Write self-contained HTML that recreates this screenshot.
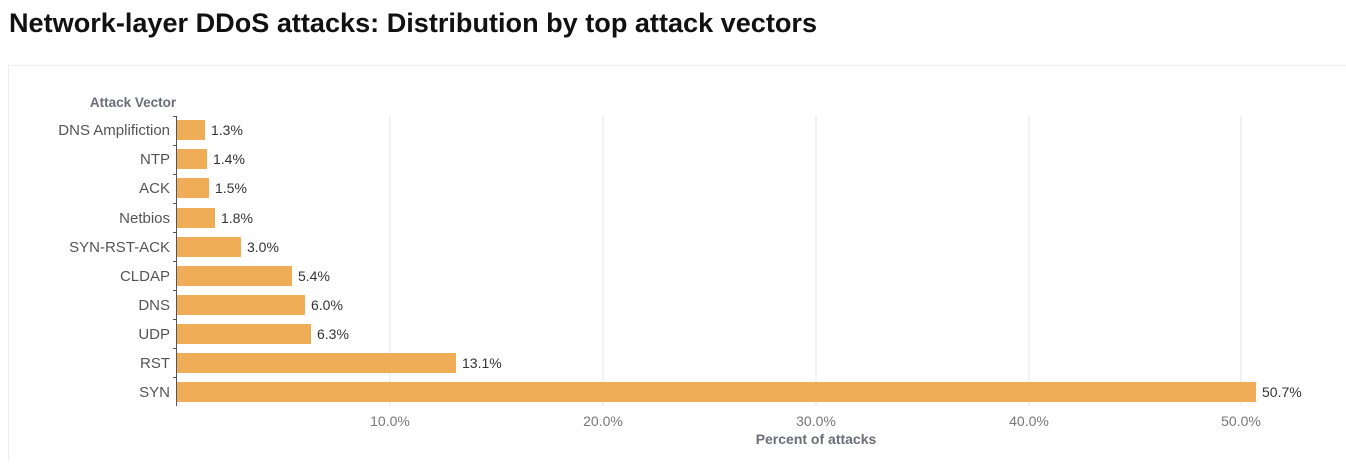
<!DOCTYPE html>
<html><head><style>
body{margin:0;background:#fff;width:1346px;height:461px;overflow:hidden;font-family:"Liberation Sans",sans-serif}
</style></head><body>
<svg width="1346" height="461" xmlns="http://www.w3.org/2000/svg" font-family="Liberation Sans, sans-serif">
<text x="9" y="32" font-size="27" font-weight="bold" fill="#111" textLength="808" lengthAdjust="spacingAndGlyphs">Network-layer DDoS attacks: Distribution by top attack vectors</text>
<rect x="8.5" y="65.5" width="1345" height="400" fill="none" stroke="#eee"/>
<g stroke="#e3e5ea" stroke-width="1">
<line x1="390" y1="116" x2="390" y2="406"/><line x1="603" y1="116" x2="603" y2="406"/>
<line x1="816" y1="116" x2="816" y2="406"/><line x1="1029" y1="116" x2="1029" y2="406"/>
<line x1="1241" y1="116" x2="1241" y2="406"/>
</g>
<text x="133" y="107" font-size="13.5" font-weight="bold" fill="#6b6e78" text-anchor="middle">Attack Vector</text>
<g stroke="#555" stroke-width="1">
<line x1="176.5" y1="116" x2="176.5" y2="406"/>
<line x1="173" y1="116.5" x2="177" y2="116.5"/><line x1="173" y1="145.5" x2="177" y2="145.5"/><line x1="173" y1="174.5" x2="177" y2="174.5"/><line x1="173" y1="203.5" x2="177" y2="203.5"/><line x1="173" y1="232.5" x2="177" y2="232.5"/><line x1="173" y1="261.5" x2="177" y2="261.5"/><line x1="173" y1="290.5" x2="177" y2="290.5"/><line x1="173" y1="319.5" x2="177" y2="319.5"/><line x1="173" y1="348.5" x2="177" y2="348.5"/><line x1="173" y1="377.5" x2="177" y2="377.5"/>
</g>
<g fill="#f0ad58">
<rect x="177" y="120" width="28" height="20"/>
<rect x="177" y="149" width="30" height="20"/>
<rect x="177" y="178" width="32" height="20"/>
<rect x="177" y="208" width="38" height="20"/>
<rect x="177" y="237" width="64" height="20"/>
<rect x="177" y="266" width="115" height="20"/>
<rect x="177" y="295" width="128" height="20"/>
<rect x="177" y="324" width="134" height="20"/>
<rect x="177" y="353" width="279" height="20"/>
<rect x="177" y="382" width="1079" height="20"/>
</g>
<g font-size="15" fill="#555" text-anchor="end">
<text x="170" y="135">DNS Amplifiction</text><text x="170" y="164">NTP</text><text x="170" y="193">ACK</text><text x="170" y="223">Netbios</text><text x="170" y="252">SYN-RST-ACK</text><text x="170" y="281">CLDAP</text><text x="170" y="310">DNS</text><text x="170" y="339">UDP</text><text x="170" y="368">RST</text><text x="170" y="397">SYN</text>
</g>
<g font-size="14" fill="#333">
<text x="211" y="135">1.3%</text><text x="213" y="164">1.4%</text><text x="215" y="193">1.5%</text><text x="221" y="223">1.8%</text><text x="247" y="252">3.0%</text><text x="298" y="281">5.4%</text><text x="311" y="310">6.0%</text><text x="317" y="339">6.3%</text><text x="462" y="368">13.1%</text><text x="1262" y="397">50.7%</text>
</g>
<g font-size="14" fill="#777" text-anchor="middle">
<text x="390" y="426">10.0%</text><text x="603" y="426">20.0%</text><text x="816" y="426">30.0%</text><text x="1029" y="426">40.0%</text><text x="1241" y="426">50.0%</text>
</g>
<text x="816" y="444" font-size="14" font-weight="bold" fill="#6b6e78" text-anchor="middle">Percent of attacks</text>
</svg>
</body></html>
